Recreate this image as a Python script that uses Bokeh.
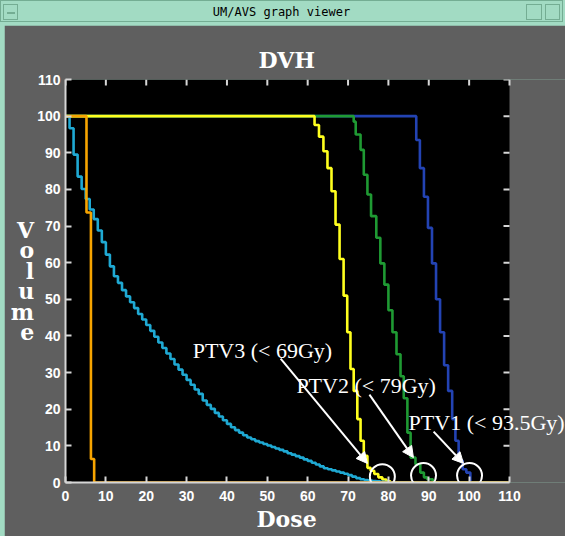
from bokeh.plotting import figure
from bokeh.layouts import column
from bokeh.models import (Range1d, LinearAxis, FixedTicker, BoxAnnotation,
                          Label, Arrow, NormalHead, Title, Div)
from bokeh.embed import file_html
from bokeh.resources import INLINE

# ---------------- data ----------------
dose_ticks = [0, 10, 20, 30, 40, 50, 60, 70, 80, 90, 100, 110]
volume_ticks = [0, 10, 20, 30, 40, 50, 60, 70, 80, 90, 100, 110]

cyan_dose = [0, 1, 2, 3, 4, 5, 6, 7, 8, 9, 10, 11, 12, 13, 14, 15, 16, 17, 18, 19,
             20, 21, 22, 23, 24, 25, 26, 27, 28, 29, 30, 31, 32, 33, 34, 35, 36, 37, 38, 39,
             40, 41, 42, 43, 44, 45, 46, 47, 48, 49, 50, 51, 52, 53, 54, 55, 56, 57, 58, 59,
             60, 61, 62, 63, 64, 65, 66, 67, 68, 69, 70, 71, 72, 73, 74, 75, 76, 77, 78, 79,
             80, 110]
cyan_vol = [100, 96.7, 89.5, 83.5, 80.1, 77.4, 74.5, 71.9, 68.8, 65.6,
            62.2, 59.0, 56.3, 54.5, 52.5, 50.8, 49.2, 47.6, 46.0, 44.5,
            43.0, 41.4, 39.8, 38.2, 36.7, 35.2, 33.7, 32.2, 30.8, 29.4,
            28.0, 26.7, 25.4, 24.2, 22.4, 21.2, 20.1, 19.0, 18.0, 17.0,
            16.0, 15.1, 14.3, 13.6, 12.9, 12.3, 11.8, 11.3, 10.9, 10.5,
            10.1, 9.7, 9.3, 8.9, 8.5, 8.0, 7.6, 7.2, 6.8, 6.3,
            5.9, 5.4, 4.9, 4.4, 3.9, 3.6, 3.3, 3.0, 2.7, 2.4,
            2.0, 1.6, 1.2, 0.9, 0.7, 0.5, 0.4, 0.3, 0.2, 0.1,
            0.0, 0.0]

orange_dose = [0, 5.2, 6.3, 7.1, 110]
orange_vol = [100, 73.7, 6.4, 0, 0]

yellow_dose = [0, 61.7, 62.8, 63.9, 64.9, 65.9, 66.9, 67.9, 68.9, 69.8, 70.6,
               71.4, 72.3, 73.1, 73.9, 74.8, 75.6, 76.5, 77.5, 78.5, 79.5, 80.5, 110]
yellow_vol = [100, 97.6, 94.4, 90.4, 85.8, 79.5, 70.4, 61.0, 51.0, 41.0, 31.0,
              25.0, 17.3, 11.4, 7.3, 4.0, 3.2, 2.3, 1.4, 0.8, 0.3, 0, 0]

green_dose = [0, 71.4, 71.9, 73.1, 73.9, 74.8, 75.7, 77.0, 78.0, 79.0, 80.0,
              81.0, 82.0, 83.0, 83.8, 84.7, 85.5, 86.7, 87.9, 88.8, 89.6, 91.0, 110]
green_vol = [100, 98.5, 95.0, 90.8, 84.0, 78.6, 72.7, 66.8, 59.8, 54.0, 47.0,
             41.0, 35.0, 29.0, 23.0, 13.6, 6.8, 5.0, 2.7, 1.4, 0.9, 0, 0]

blue_dose = [0, 86.9, 87.8, 88.8, 89.8, 90.8, 91.8, 92.8, 93.8, 94.8, 95.8,
             96.6, 97.4, 98.4, 99.3, 100.3, 110]
blue_vol = [100, 93.5, 85.8, 78.0, 69.5, 59.8, 50.0, 41.0, 32.0, 25.0, 17.3,
            11.4, 6.0, 3.6, 2.7, 0, 0]

ptv_texts = ["PTV3 (< 69Gy)", "PTV2 (< 79Gy)", "PTV1 (< 93.5Gy)"]
ptv_text_x = [31.5, 57.2, 85.0]
ptv_text_y = [35.9, 26.4, 16.3]
arrow_x0 = [53.3, 75.3, 91.2]
arrow_y0 = [33.8, 24.0, 13.9]
arrow_x1 = [74.8, 86.2, 98.6]
arrow_y1 = [5.2, 6.8, 5.2]
circle_x = [78.5, 88.7, 100.1]
circle_y = [1.6, 1.9, 1.9]

# ---------------- geometry ----------------
MINT = "#a2dbc3"
MINT_LINE = "#74ad93"
PANEL = "#5f5f5f"
AXIS = "#d6d6d6"

W, H = 561, 511            # figure canvas (dark panel)
FL, FT, FB = 61, 54, 457   # frame left/top/bottom in canvas px
PLOT_R = 505               # canvas px where dose = 110
XMAX = 110.0
YMAX = 110.0
x_end = XMAX * (W - FL) / (PLOT_R - FL)

p = figure(width=W, height=H, x_range=Range1d(0, x_end), y_range=Range1d(0, YMAX),
           output_backend="svg", toolbar_location=None,
           x_axis_location=None, y_axis_location=None,
           min_border_left=FL, min_border_right=0,
           min_border_top=FT, min_border_bottom=H - FB,
           margin=(0, 0, 0, 4))
p.background_fill_color = PANEL
p.border_fill_color = PANEL
p.outline_line_color = None
p.grid.visible = False

# black plotting area 0..110 x 0..110
p.add_layout(BoxAnnotation(left=0, right=XMAX, bottom=0, top=YMAX,
                           fill_color="black", fill_alpha=1.0,
                           line_color=None, level="underlay"))

# titles
t_dvh = Title(text="DVH", align="left", offset=193, standoff=13,
              text_font="DejaVu Serif", text_font_style="bold",
              text_font_size="22px", text_color="white")
p.add_layout(t_dvh, "above")

# axes


def mk_axis(ticks, standoff):
    ax = LinearAxis(ticker=FixedTicker(ticks=ticks), bounds=(0, 110))
    ax.major_tick_in = 6
    ax.major_tick_out = 0
    ax.minor_tick_line_color = None
    ax.major_tick_line_color = AXIS
    ax.major_tick_line_width = 2
    ax.axis_line_color = AXIS
    ax.axis_line_width = 2
    ax.major_label_standoff = standoff
    ax.major_label_text_color = "white"
    ax.major_label_text_font = "Liberation Sans"
    ax.major_label_text_font_style = "bold"
    ax.major_label_text_font_size = "14px"
    return ax


xax = mk_axis(dose_ticks, 8)
p.add_layout(xax, "below")
yax = mk_axis(volume_ticks, 5)
yax.axis_label = "V\no\nl\nu\nm\ne"
yax.axis_label_orientation = "horizontal"
yax.axis_label_standoff = 0
yax.axis_label_text_font = "DejaVu Serif"
yax.axis_label_text_font_style = "bold"
yax.axis_label_text_font_size = "22px"
yax.axis_label_text_color = "white"
yax.axis_label_text_line_height = 0.79
p.add_layout(yax, "left")

t_dose = Title(text="Dose", align="left", offset=191, standoff=0,
               text_font="DejaVu Serif", text_font_style="bold",
               text_font_size="22px", text_color="white")
p.add_layout(t_dose, "below")

# inward tick marks on the top and right edges of the plotting area
tick_dx = 6 * XMAX / (PLOT_R - FL)
tick_dy = 6 * YMAX / (FB - FT)
p.segment(x0=dose_ticks, y0=[YMAX] * len(dose_ticks),
          x1=dose_ticks, y1=[YMAX - tick_dy] * len(dose_ticks),
          line_color=AXIS, line_width=2)
p.segment(x0=[XMAX] * len(volume_ticks), y0=volume_ticks,
          x1=[XMAX - tick_dx] * len(volume_ticks), y1=volume_ticks,
          line_color=AXIS, line_width=2)

# curves
LW = 2.6
p.step(blue_dose, blue_vol, mode="after", line_color="#2343b3", line_width=LW)
p.step(green_dose, green_vol, mode="after", line_color="#1f9a33", line_width=LW)
p.step(yellow_dose, yellow_vol, mode="after", line_color="#ffff1e", line_width=LW)
p.step(cyan_dose, cyan_vol, mode="after", line_color="#1fa9d3", line_width=LW)
p.step(orange_dose, orange_vol, mode="after", line_color="#f7a400", line_width=LW)

# annotations
p.scatter(circle_x, circle_y, marker="circle", size=25, fill_color=None,
          line_color="white", line_width=2)
for i in range(3):
    p.add_layout(Arrow(x_start=arrow_x0[i], y_start=arrow_y0[i],
                       x_end=arrow_x1[i], y_end=arrow_y1[i],
                       line_color="white", line_width=2,
                       end=NormalHead(size=11, fill_color="white", line_color="white")))
    p.add_layout(Label(x=ptv_text_x[i], y=ptv_text_y[i], text=ptv_texts[i],
                       text_font="Liberation Serif", text_font_size="22px",
                       text_color="white", text_align="left",
                       text_baseline="alphabetic"))

# window title bar
btn = "position:absolute;top:3px;height:16px;border:1px solid %s;" % MINT_LINE
bar_html = (
    '<div style="position:relative;width:563px;height:22px;line-height:22px;'
    'text-align:center;font-family:\'DejaVu Sans Mono\';font-size:12px;color:#000;'
    'border:1px solid %s;">UM/AVS graph viewer'
    '<span style="%sleft:2px;width:15px;"></span>'
    '<span style="position:absolute;left:6px;top:11px;width:8px;height:2px;'
    'background:#e6f3ec;border:1px solid %s;"></span>'
    '<span style="%sleft:525px;width:16px;"></span>'
    '<span style="%sleft:544px;width:15px;"></span>'
    '</div>' % (MINT_LINE, btn, MINT_LINE, btn, btn)
)
bar = Div(text=bar_html, width=565, height=25, margin=(0, 0, 0, 0),
          styles={"background-color": MINT})

layout = column(bar, p, spacing=0, styles={"background-color": MINT})

open("out.html", "w").write(file_html(layout, INLINE))
